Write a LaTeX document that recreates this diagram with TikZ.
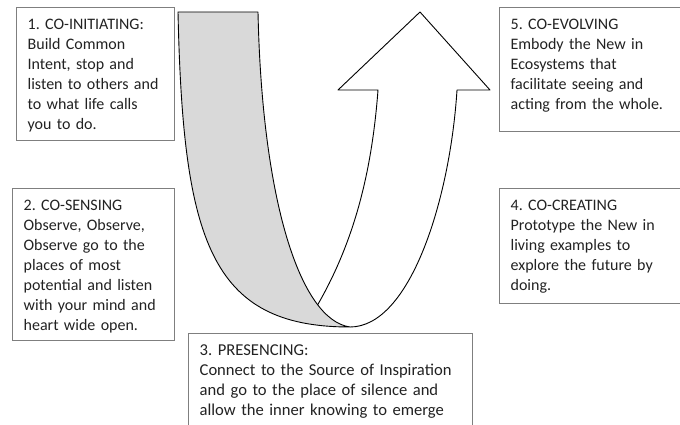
\documentclass[tikz,border=0pt]{standalone}
\usepackage{fontspec}
\setmainfont{Carlito}
\usepackage{tikz}
\usetikzlibrary{positioning}
\definecolor{BoxGray}{HTML}{7F7F7F}
\definecolor{BandGray}{HTML}{D9D9D9}
\definecolor{InkGray}{HTML}{222222}
\frenchspacing

\begin{document}
\begin{tikzpicture}[x=1pt, y=-1pt,
    stage/.style={rectangle, draw=BoxGray, line width=1.3pt, fill=white,
                  anchor=north west, align=left, inner xsep=11pt, inner ysep=4pt,
                  text height=18pt, font=\fontsize{16}{20}\selectfont, text=InkGray},
    band/.style={draw=black, line width=0.9pt, line join=round}
]
    \useasboundingbox (0,0) rectangle (680,425);

    % Back of the U, grey side
    \filldraw[band, fill=BandGray] (178,12) -- (258,12)
        .. controls (262,200) and (300,320) .. (350,327) coordinate[pos=0.77] (cross)
        coordinate (bottom)
        .. controls (210,327) and (183,240) .. (178,12) -- cycle;

    % Front of the U, rising into the arrow
    \draw[band] (bottom) .. controls (410,327) and (450,200) .. (457,90) coordinate (shaftR)
        -- (490,90) -- (420,12) coordinate (tip) -- (338,90) -- (378,90) coordinate (shaftL)
        .. controls (372,170) and (355,240) .. (cross);

    % Stages down the left side
    \node[stage, text width=136pt, text depth=107pt] (initiating) at (16,7)
        {1. CO-INITIATING:\\Build Common\\Intent, stop and\\listen to others and\\
        to what life calls\\you to do.};
    \node[stage, text width=140pt, text depth=126pt] (sensing) at (12,188)
        {2. CO-SENSING\\Observe, Observe,\\Observe go to the\\places of most\\
        potential and listen\\with your mind and\\heart wide open.};

    % Bottom of the U
    \node[stage, text width=262pt, text depth=110pt, font=\fontsize{16.6}{20}\selectfont]
        (presencing) at (188,333)
        {3. PRESENCING:\\Connect to the Source of Inspiration\\
        and go to the place of silence and\\allow the inner knowing to emerge};

    % Stages up the right side
    \node[stage, text width=170pt, text depth=89pt] (creating) at (499,188)
        {4. CO-CREATING\\Prototype the New in\\living examples to\\
        explore the future by\\doing.};
    \node[stage, text width=170pt, text depth=98pt] (evolving) at (499,7)
        {5. CO-EVOLVING\\Embody the New in\\Ecosystems that\\
        facilitate seeing and\\acting from the whole.};
\end{tikzpicture}
\end{document}
